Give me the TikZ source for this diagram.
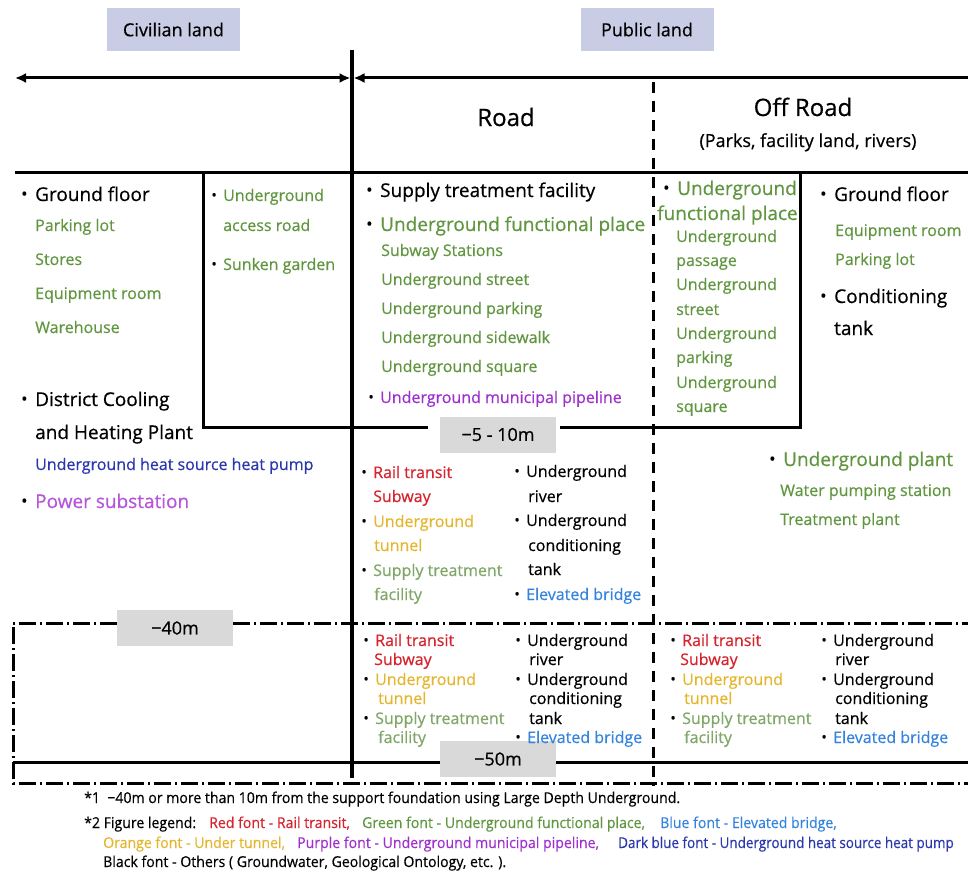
\documentclass[tikz,border=0pt]{standalone}
\usepackage{fontspec}
\setmainfont{Open Sans}[FakeBold=0.6]
\newfontfamily\notefont{Open Sans}[FakeStretch=0.94,FakeBold=0.4]
\usepackage{tikz}
\usetikzlibrary{arrows.meta}
\definecolor{ugreen}{RGB}{96,150,64}
\definecolor{sgreen}{RGB}{128,166,104}
\definecolor{ured}{RGB}{214,35,45}
\definecolor{uorange}{RGB}{228,182,48}
\definecolor{ublue}{RGB}{52,132,222}
\definecolor{udark}{RGB}{42,56,172}
\definecolor{upurple}{RGB}{158,48,204}
\definecolor{ppurple}{RGB}{182,86,216}
\definecolor{lav}{RGB}{201,204,229}
\definecolor{lgray}{RGB}{217,217,217}
\newcommand{\bu}{\llap{\textcolor{black}{\raisebox{0.06em}{\scalebox{0.9}{•}}}\hspace{0.4em}}}

\begin{document}
\begin{tikzpicture}[x=1pt, y=-1pt, >={Latex[length=11pt,width=10pt]}]
\tikzstyle{big}=[font=\fontsize{19}{19}\selectfont, anchor=base west, inner sep=0pt]
\tikzstyle{sm}=[font=\fontsize{16}{16}\selectfont, anchor=base west, inner sep=0pt]
\tikzstyle{ttl}=[font=\fontsize{24}{24}\selectfont, anchor=base, inner sep=0pt]
\tikzstyle{landtag}=[fill=lav, minimum width=133pt, minimum height=43pt, inner sep=0pt, font=\fontsize{18}{18}\selectfont]
\tikzstyle{dbox}=[fill=lgray, minimum width=116pt, minimum height=36pt, inner sep=0pt, font=\fontsize{18}{18}\selectfont]
\tikzstyle{note}=[font=\notefont\fontsize{15}{15}\selectfont, anchor=base west, inner sep=0pt]
\tikzstyle{wall}=[line width=3pt]
\tikzstyle{cut}=[line width=3pt, dash pattern=on 11pt off 8pt]
\tikzstyle{ddot}=[line width=3pt, dash pattern=on 17pt off 4pt on 2pt off 4pt]
\useasboundingbox (0,0) rectangle (968,872);

% land ownership
\node[landtag] (civil) at (173.5,29.5) {Civilian land};
\node[landtag] (public) at (647,29.5) {Public land};
\coordinate (aL) at (15,78);
\coordinate (aM) at (352,78);
\coordinate (aR) at (980,78);
\draw[wall, <->] (aL) -- ([xshift=-1.5pt]aM);
\draw[wall, <-] ([xshift=1.5pt]aM) -- (aR);

% frame
\draw[line width=4pt] (352,50) -- (352,778);
\draw[wall] (15,172) -- (968,172);
\draw[wall] (203,172) -- (203,427) -- (428,427);
\draw[wall] (560,427) -- (800,427) -- (800,172);
\draw[cut] (653,82) -- (653,786);
\draw[ddot] (117,623) -- (13,623) -- (13,783) -- (968,783);
\draw[ddot] (233,623) -- (968,623);
\draw[wall] (13,762) -- (440,762);
\draw[wall] (556,762) -- (968,762);
\node[dbox] (d5) at (498,434.5) {−5 - 10m};
\node[dbox] (d40) at (175,628) {−40m};
\node[dbox] (d50) at (498,759) {−50m};

% headings
\node[ttl] (road) at (506,126) {Road};
\node[ttl] (offroad) at (803,116) {Off Road};
\node[font=\fontsize{18}{18}\selectfont, anchor=base, inner sep=0pt] (offsub) at (808,147) {(Parks, facility land, rivers)};

% civilian land
\node[big] (gfloor) at (35,201) {\bu Ground floor};
\node[sm, text=ugreen] (civ1) at (35,231) {Parking lot};
\node[sm, text=ugreen] (civ2) at (35,265) {Stores};
\node[sm, text=ugreen] (civ3) at (35,299) {Equipment room};
\node[sm, text=ugreen] (civ4) at (35,333) {Warehouse};
\node[big] (dhc) at (35,406) {\bu District Cooling};
\node[big] (dhc2) at (35,439) {and Heating Plant};
\node[sm, text=udark] (hpump) at (35,470) {Underground heat source heat pump};
\node[big, text=ppurple] (power) at (35,508) {\bu Power substation};
\node[sm, text=ugreen] (uar) at (223,201) {\bu Underground};
\node[sm, text=ugreen] (uar2) at (223,231) {access road};
\node[sm, text=ugreen] (sunk) at (223,270) {\bu Sunken garden};

% road, shallow
\node[big] (stf) at (380,197) {\bu Supply treatment facility};
\node[big, text=ugreen] (ufp) at (380,231) {\bu Underground functional place};
\node[sm, text=ugreen] (rd1) at (381,256) {Subway Stations};
\node[sm, text=ugreen] (rd2) at (381,285) {Underground street};
\node[sm, text=ugreen] (rd3) at (381,314) {Underground parking};
\node[sm, text=ugreen] (rd4) at (381,343) {Underground sidewalk};
\node[sm, text=ugreen] (rd5) at (381,372) {Underground square};
\node[sm, text=upurple] (pipe) at (380,403) {\bu Underground municipal pipeline};

% off road, shallow
\node[big, text=ugreen] (ofp) at (677,195) {\bu Underground};
\node[big, text=ugreen] (ofp2) at (657,220) {functional place};
\node[sm, text=ugreen] (of1) at (676,242) {Underground};
\node[sm, text=ugreen] (of2) at (676,266) {passage};
\node[sm, text=ugreen] (of3) at (676,290) {Underground};
\node[sm, text=ugreen] (of4) at (676,315) {street};
\node[sm, text=ugreen] (of5) at (676,339) {Underground};
\node[sm, text=ugreen] (of6) at (676,363) {parking};
\node[sm, text=ugreen] (of7) at (676,388) {Underground};
\node[sm, text=ugreen] (of8) at (676,412) {square};
\node[big] (gf2) at (834,201) {\bu Ground floor};
\node[sm, text=ugreen] (eq2) at (835,236) {Equipment room};
\node[sm, text=ugreen] (pk2) at (835,265) {Parking lot};
\node[big] (ctank) at (834,303) {\bu Conditioning};
\node[big] (ctank2) at (834,335) {tank};

% road, -5 to -40m
\node[sm, text=ured] (mrail) at (373,478) {\bu Rail transit};
\node[sm, text=ured] (msub) at (373,502) {Subway};
\node[sm, text=uorange] (mtun) at (373,527) {\bu Underground};
\node[sm, text=uorange] (mtun2) at (374,551) {tunnel};
\node[sm, text=sgreen] (msup) at (373,576) {\bu Supply treatment};
\node[sm, text=sgreen] (msup2) at (374,600) {facility};
\node[sm] (mriv) at (526,477) {\bu Underground};
\node[sm] (mriv2) at (528,502) {river};
\node[sm] (mtank) at (526,526) {\bu Underground};
\node[sm] (mtank2) at (528,551) {conditioning};
\node[sm] (mtank3) at (528,575) {tank};
\node[sm, text=ublue] (mbrg) at (526,600) {\bu Elevated bridge};

% off road, -5 to -40m
\node[big, text=ugreen] (uplant) at (783,466) {\bu Underground plant};
\node[sm, text=ugreen] (wps) at (780,496) {Water pumping station};
\node[sm, text=ugreen] (tpl) at (780,525) {Treatment plant};

% road, -40 to -50m
\node[sm, text=ured] (arail) at (375,646) {\bu Rail transit};
\node[sm, text=ured] (asub) at (374,665) {Subway};
\node[sm, text=uorange] (atun) at (375,685) {\bu Underground};
\node[sm, text=uorange] (atun2) at (378,704) {tunnel};
\node[sm, text=sgreen] (asup) at (375,724) {\bu Supply treatment};
\node[sm, text=sgreen] (asup2) at (378,743) {facility};
\node[sm] (ariv) at (527,646) {\bu Underground};
\node[sm] (ariv2) at (529,665) {river};
\node[sm] (atank) at (527,685) {\bu Underground};
\node[sm] (atank2) at (529,704) {conditioning};
\node[sm] (atank3) at (529,724) {tank};
\node[sm, text=ublue] (abrg) at (527,743) {\bu Elevated bridge};

% off road, -40 to -50m
\node[sm, text=ured] (brail) at (682,646) {\bu Rail transit};
\node[sm, text=ured] (bsub) at (680,665) {Subway};
\node[sm, text=uorange] (btun) at (682,685) {\bu Underground};
\node[sm, text=uorange] (btun2) at (684,704) {tunnel};
\node[sm, text=sgreen] (bsup) at (682,724) {\bu Supply treatment};
\node[sm, text=sgreen] (bsup2) at (684,743) {facility};
\node[sm] (briv) at (833,646) {\bu Underground};
\node[sm] (briv2) at (835,665) {river};
\node[sm] (btank) at (833,685) {\bu Underground};
\node[sm] (btank2) at (835,704) {conditioning};
\node[sm] (btank3) at (835,724) {tank};
\node[sm, text=ublue] (bbrg) at (833,743) {\bu Elevated bridge};

% notes
\node[note] (n1) at (84,803) {*1 \ −40m or more than 10m from the support foundation using Large Depth Underground.};
\node[note] (n2) at (84,828) {*2 Figure legend:};
\node[note, text=ured] (n2a) at (209,828) {Red font - Rail transit,};
\node[note, text=ugreen] (n2b) at (362,828) {Green font - Underground functional place,};
\node[note, text=ublue] (n2c) at (660,828) {Blue font - Elevated bridge,};
\node[note, text=uorange] (n3a) at (103,848) {Orange font - Under tunnel,};
\node[note, text=upurple] (n3b) at (297,848) {Purple font - Underground municipal pipeline,};
\node[note, text=udark] (n3c) at (618,848) {\scalebox{0.955}[1]{Dark blue font - Underground heat source heat pump}};
\node[note] (n4) at (103,867) {Black font - Others ( Groundwater, Geological Ontology, etc. ).};
\end{tikzpicture}
\end{document}
